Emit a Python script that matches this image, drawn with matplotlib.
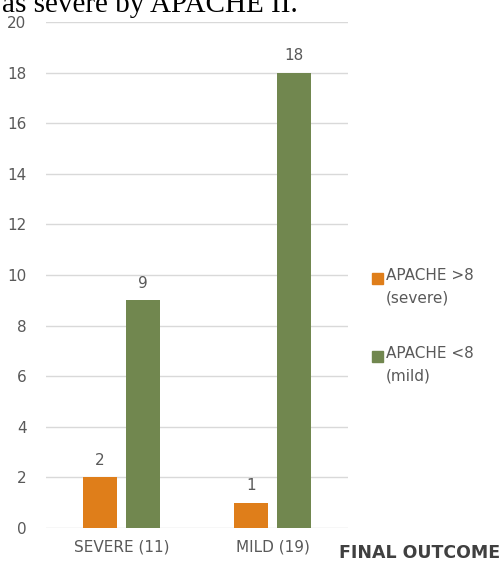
import matplotlib.pyplot as plt
import numpy as np

categories = ['SEVERE (11)', 'MILD (19)']
severe_vals = [2, 1]
mild_vals = [9, 18]
series_names = ['APACHE >8\n(severe)', 'APACHE <8\n(mild)']
yticks = [0, 2, 4, 6, 8, 10, 12, 14, 16, 18, 20]

orange = '#DF7E1A'
green = '#71874F'
grey = '#595959'

fig = plt.figure(figsize=(5.02, 5.63), dpi=100)
ax = fig.add_axes([0.0916, 0.0622, 0.6016, 0.8988])

x = np.arange(len(categories))
w = 0.225
off = 0.142
b1 = ax.bar(x - off, severe_vals, w, color=orange, zorder=3)
b2 = ax.bar(x + off, mild_vals, w, color=green, zorder=3)

for bars in (b1, b2):
    for r in bars:
        ax.annotate(str(int(r.get_height())), (r.get_x() + r.get_width() / 2, r.get_height()),
                    xytext=(0, 7), textcoords='offset points', ha='center', va='bottom',
                    fontsize=11, color=grey)

ax.set_xlim(-0.5, 1.5)
ax.set_ylim(0, 20)
ax.set_yticks(yticks)
ax.set_xticks(x)
ax.set_xticklabels(categories)
ax.grid(axis='y', color='#d9d9d9', linewidth=1, zorder=0)
for s in ax.spines.values():
    s.set_visible(False)
ax.tick_params(length=0, labelsize=11, labelcolor=grey)
ax.tick_params(axis='y', pad=14)
ax.tick_params(axis='x', pad=8)

# legend, drawn by hand so it sits like the original
fig.patches.append(plt.Rectangle((372 / 502, 1 - 284 / 563), 11 / 502, 11 / 563,
                                 transform=fig.transFigure, color=orange))
fig.patches.append(plt.Rectangle((372 / 502, 1 - 362 / 563), 11 / 502, 11 / 563,
                                 transform=fig.transFigure, color=green))
fig.text(386 / 502, 1 - 268 / 563, series_names[0], fontsize=11, color=grey,
         va='top', ha='left', linespacing=1.6)
fig.text(386 / 502, 1 - 346 / 563, series_names[1], fontsize=11, color=grey,
         va='top', ha='left', linespacing=1.6)

fig.text(500 / 502, 1 - 553 / 563, 'FINAL OUTCOME', fontsize=12.5, fontweight='bold',
         color='#404040', ha='right', va='center')
# leftover line of the surrounding document, cut at the top edge
fig.text(0.004, 1 - 12 / 563, 'as severe by APACHE II.', fontsize=21,
         family='Liberation Serif', color='black', ha='left', va='baseline')

fig.savefig('out.png', dpi=100)
